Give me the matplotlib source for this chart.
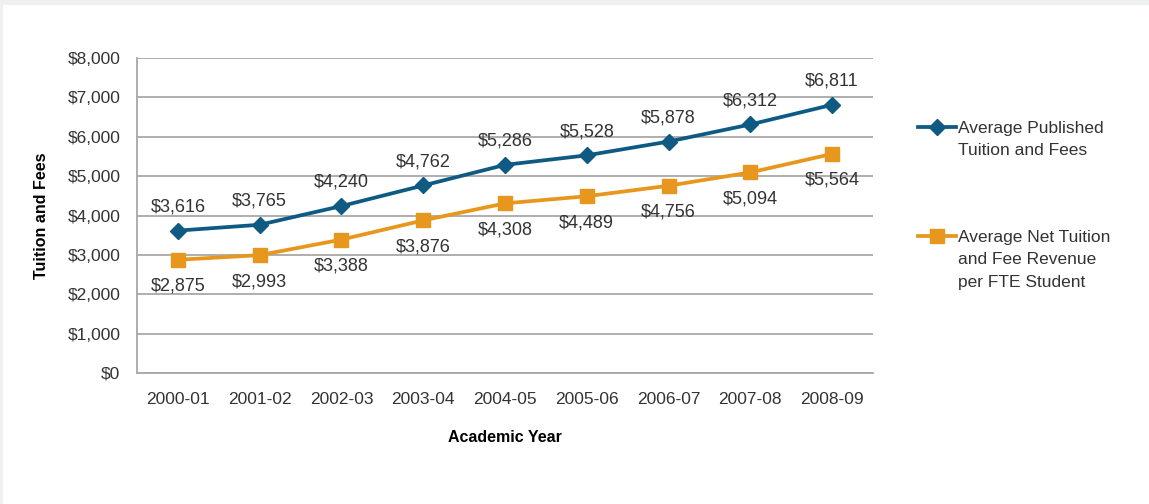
import matplotlib.pyplot as plt
import numpy as np
from matplotlib.lines import Line2D
from matplotlib.patches import Rectangle

# 学年与两条学费曲线
years = ['2000-01', '2001-02', '2002-03', '2003-04', '2004-05',
         '2005-06', '2006-07', '2007-08', '2008-09']
published = [3616, 3765, 4240, 4762, 5286, 5528, 5878, 6312, 6811]
net_revenue = [2875, 2993, 3388, 3876, 4308, 4489, 4756, 5094, 5564]
y_ticks = [0, 1000, 2000, 3000, 4000, 5000, 6000, 7000, 8000]

blue = '#0f5a82'
orange = '#e8971e'
grid_gray = '#a8a8a8'
text_gray = '#333333'

plt.rcParams['font.family'] = ['Liberation Sans', 'DejaVu Sans']
plt.rcParams['text.color'] = text_gray

W, H = 1149, 504
fig = plt.figure(figsize=(W / 100, H / 100), dpi=100, facecolor='white')
# 浅灰色边框（上、左）
fig.patches.append(Rectangle((0, (H - 5) / H), 1, 5 / H, transform=fig.transFigure,
                             facecolor='#eff0f0', edgecolor='none', zorder=-10))
fig.patches.append(Rectangle((0, 0), 3 / W, 1, transform=fig.transFigure,
                             facecolor='#eff0f0', edgecolor='none', zorder=-10))

ax_l, ax_r, ax_t, ax_b = 137, 873, 58, 373
ax = fig.add_axes([ax_l / W, (H - ax_b) / H, (ax_r - ax_l) / W, (ax_b - ax_t) / H])
ax.set_facecolor('white')

x = np.arange(len(years))
ax.plot(x, published, color=blue, lw=2.7, marker='D', markersize=8.5, zorder=3)
ax.plot(x, net_revenue, color=orange, lw=2.7, marker='s', markersize=10.5, zorder=3)

for i, v in enumerate(published):
    ax.annotate('${:,}'.format(v), (i, v), xytext=(0, 17), textcoords='offset points',
                ha='center', va='center', fontsize=13, color=text_gray)
for i, v in enumerate(net_revenue):
    ax.annotate('${:,}'.format(v), (i, v), xytext=(0, -19), textcoords='offset points',
                ha='center', va='center', fontsize=13, color=text_gray)

ax.set_xlim(-0.5, len(years) - 0.5)
ax.set_ylim(0, 8000)
ax.set_xticks(x)
ax.set_xticklabels(years)
ax.set_yticks(y_ticks)
ax.set_yticklabels(['${:,}'.format(t) for t in y_ticks])
ax.tick_params(axis='both', length=0, labelsize=12.5, labelcolor=text_gray)
ax.tick_params(axis='x', pad=14)
ax.tick_params(axis='y', pad=12)

ax.grid(axis='y', color=grid_gray, lw=1.3, zorder=1)
ax.set_axisbelow(True)
for side in ['top', 'right']:
    ax.spines[side].set_visible(False)
for side in ['left', 'bottom']:
    ax.spines[side].set_color(grid_gray)
    ax.spines[side].set_linewidth(1.3)

ax.set_xlabel('Academic Year', fontsize=11.5, fontweight='bold', color='black')
ax.set_ylabel('Tuition and Fees', fontsize=11.5, fontweight='bold', color='black')
ax.xaxis.set_label_coords(0.5, -(438 - ax_b) / (ax_b - ax_t))
ax.yaxis.set_label_coords(-(ax_l - 42) / (ax_r - ax_l), 0.5)
ax.xaxis.label.set_va('center')
ax.yaxis.label.set_va('center')

# 图例（手动绘制，使图标对齐第一行文字）
legend_items = [
    (blue, 'D', 8.5, 'Average Published\nTuition and Fees', 127),
    (orange, 's', 10.5, 'Average Net Tuition\nand Fee Revenue\nper FTE Student', 236),
]
for color, marker, ms, label, ypix in legend_items:
    yf = (H - ypix) / H
    fig.add_artist(Line2D([918 / W, 956 / W], [yf, yf], color=color, lw=2.7,
                          transform=fig.transFigure))
    fig.add_artist(Line2D([937 / W], [yf], color=color, marker=marker, markersize=ms,
                          transform=fig.transFigure))
    fig.text(958 / W, (H - ypix + 6) / H, label, ha='left', va='top',
             fontsize=12.5, color=text_gray, linespacing=1.62)

plt.savefig('out.png', dpi=100, facecolor=fig.get_facecolor())
